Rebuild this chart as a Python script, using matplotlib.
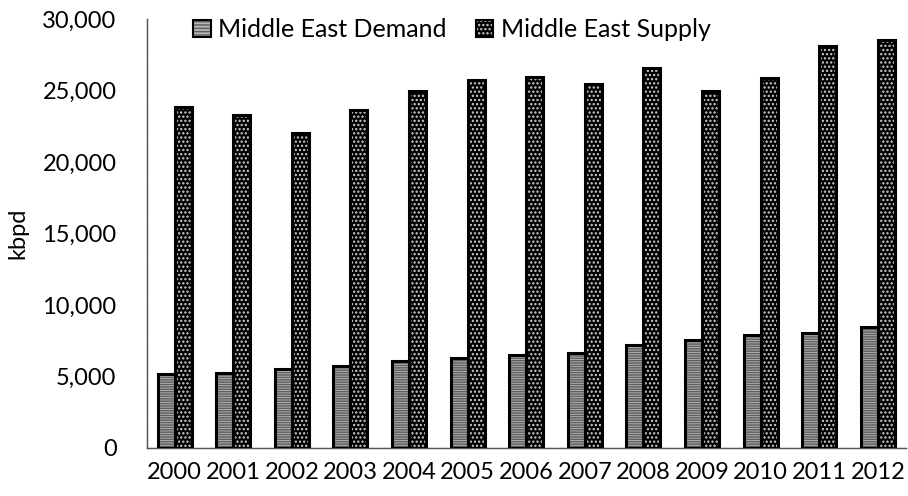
import matplotlib
matplotlib.use("Agg")
import matplotlib.pyplot as plt
import numpy as np
from matplotlib.patches import Patch
from matplotlib.legend_handler import HandlerTuple
from matplotlib.ticker import FuncFormatter

plt.rcParams['font.family'] = ['Lato', 'DejaVu Sans']
plt.rcParams['hatch.linewidth'] = 1.1

years = ['2000', '2001', '2002', '2003', '2004', '2005', '2006',
         '2007', '2008', '2009', '2010', '2011', '2012']
demand = [5170, 5240, 5520, 5730, 6080, 6290, 6500, 6640, 7200, 7550, 7900, 8040, 8460]
supply = [23850, 23290, 22030, 23640, 24970, 25730, 25940, 25450, 26570, 24970,
          25870, 28110, 28530]
series_names = ['Middle East Demand', 'Middle East Supply']

fig = plt.figure(figsize=(9.08, 4.96), dpi=100)
ax = fig.add_axes([0.162, 0.097, 0.837, 0.865])

x = np.arange(len(years))
w = 0.29

# demand: grey fill with horizontal line hatching, black outline
ax.bar(x - w / 2, demand, w, facecolor='#b8b8b8', edgecolor='#606060',
       hatch='-------', linewidth=0, zorder=2)
ax.bar(x - w / 2, demand, w, fill=False, edgecolor='black', linewidth=2.2, zorder=3)
# supply: black fill with light dots, black outline
ax.bar(x + w / 2, supply, w, facecolor='black', edgecolor='#d0d0d0',
       hatch='....', linewidth=0, zorder=2)
ax.bar(x + w / 2, supply, w, fill=False, edgecolor='black', linewidth=2.2, zorder=3)

ax.set_xlim(-0.47, 12.5)
ax.set_ylim(0, 30000)
ax.set_yticks(np.arange(0, 30001, 5000))
ax.yaxis.set_major_formatter(FuncFormatter(lambda v, p: f"{int(v):,}"))
ax.set_xticks(x)
ax.set_xticklabels(years)
ax.tick_params(axis='both', length=0, labelsize=17, colors='black')
ax.tick_params(axis='y', pad=22)
ax.tick_params(axis='x', pad=10)

for s in ['top', 'right']:
    ax.spines[s].set_visible(False)
for s in ['left', 'bottom']:
    ax.spines[s].set_linestyle((0, (1, 0.6)))
    ax.spines[s].set_color('#555555')
    ax.spines[s].set_linewidth(1)

ax.set_ylabel('kbpd', fontsize=17, labelpad=10)

h_dem = (Patch(facecolor='#b8b8b8', edgecolor='#606060', hatch='-----', linewidth=0),
         Patch(fill=False, edgecolor='black', linewidth=1.5))
h_sup = (Patch(facecolor='black', edgecolor='#d0d0d0', hatch='....', linewidth=0),
         Patch(fill=False, edgecolor='black', linewidth=1.5))
leg = fig.legend([h_dem, h_sup], series_names, ncol=2, frameon=False,
                 loc='center left', bbox_to_anchor=(0.213, 0.94),
                 handler_map={tuple: HandlerTuple(ndivide=1)},
                 handlelength=0.7, handleheight=0.7, handletextpad=0.3,
                 columnspacing=1.15, fontsize=18, borderaxespad=0, borderpad=0)

fig.savefig('out.png', dpi=100)
